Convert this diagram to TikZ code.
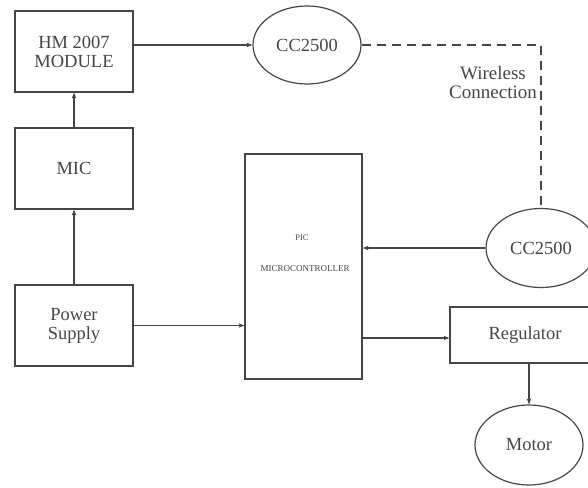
\documentclass[tikz,border=0pt]{standalone}
\usepackage{fontspec}
\setmainfont{Liberation Serif}
\usetikzlibrary{arrows.meta,calc,shapes.geometric}
\definecolor{ink}{RGB}{70,70,70}
\begin{document}
\begin{tikzpicture}[x=1pt,y=-1pt,
  every node/.style={text=ink},
  blk/.style={draw=ink, line width=1.2pt, rectangle, inner sep=0pt, align=center, font=\fontsize{18.5}{19}\selectfont},
  ell/.style={draw=ink, line width=1.2pt, ellipse, inner sep=0pt, align=center, font=\fontsize{18.5}{19}\selectfont},
  conn/.style={draw=ink, line width=1.2pt, -{Stealth[length=6pt,width=4.5pt]}},
  wire/.style={draw=ink, line width=1.2pt, dash pattern=on 9pt off 6pt}]
\useasboundingbox (0,0) rectangle (588,487);
\clip (0,0) rectangle (588,487);
\node[blk, minimum width=118pt, minimum height=81pt] (hm) at (74,51.5) {HM 2007\\MODULE};
\node[blk, minimum width=118pt, minimum height=81pt] (mic) at (74,168.5) {MIC};
\node[blk, minimum width=118pt, minimum height=81pt] (ps) at (74,325.5) {Power\\Supply};
\node[blk, minimum width=117pt, minimum height=225pt] (pic) at (303.5,266.5) {};
\node[font=\fontsize{8.5}{9}\selectfont] (pict) at (302,238) {PIC};
\node[font=\fontsize{9}{9}\selectfont] (mct) at (305,269) {MICROCONTROLLER};
\node[blk, minimum width=150pt, minimum height=56pt] (reg) at (525,335) {Regulator};
\node[ell, minimum width=108pt, minimum height=78pt] (cc1) at (307,45) {CC2500};
\node[ell, minimum width=110pt, minimum height=79pt] (cc2) at (541,248) {CC2500};
\node[ell, minimum width=108pt, minimum height=80pt] (mot) at (529,445) {Motor};
\node[anchor=east, align=center, inner sep=0pt, font=\fontsize{19}{19}\selectfont] (wl) at (537,83) {Wireless\\Connection};
\coordinate (pr) at ($(pic.east)+(0,71.5)$);
\draw[conn] (mic) -- (hm);
\draw[conn] (ps) -- (mic);
\draw[conn] (hm.east |- cc1.west) -- (cc1.west);
\draw[wire] (cc1.east) -- (cc1.east -| cc2.north) -- (cc2.north);
\draw[conn] (cc2.west) -- (cc2.west -| pic.east);
\draw[conn] (ps.east) -- (ps.east -| pic.west);
\draw[conn] (pr) -- (reg.west |- pr);
\draw[conn] (reg.south -| mot.north) -- (mot.north);
\end{tikzpicture}
\end{document}
